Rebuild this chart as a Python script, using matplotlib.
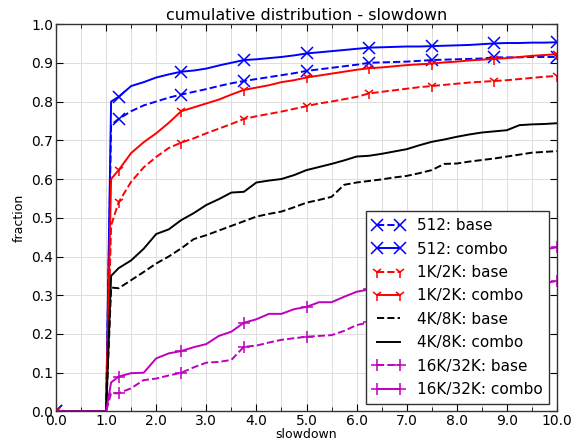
import matplotlib
matplotlib.use("Agg")
import matplotlib.pyplot as plt
from matplotlib.ticker import MultipleLocator, FormatStrFormatter

# x positions of the samples (slowdown)
xs = [0.0, 1.0, 1.1,
      1.25, 1.5, 1.75, 2.0, 2.25, 2.5, 2.75, 3.0, 3.25, 3.5, 3.75, 4.0,
      4.25, 4.5, 4.75, 5.0, 5.25, 5.5, 5.75, 6.0, 6.25, 6.5, 6.75, 7.0,
      7.25, 7.5, 7.75, 8.0, 8.25, 8.5, 8.75, 9.0, 9.25, 9.5, 9.75, 10.0]

b512_base = [0.0, 0.0, 0.74,
             0.755, 0.775, 0.79, 0.80, 0.81, 0.818, 0.825, 0.832, 0.840, 0.847, 0.853, 0.858,
             0.863, 0.868, 0.873, 0.879, 0.883, 0.887, 0.891, 0.895, 0.900, 0.901, 0.902, 0.903,
             0.905, 0.907, 0.908, 0.909, 0.910, 0.911, 0.914, 0.914, 0.914, 0.915, 0.915, 0.915]
b512_combo = [0.0, 0.0, 0.80,
              0.812, 0.84, 0.85, 0.862, 0.870, 0.877, 0.880, 0.885, 0.893, 0.900, 0.907, 0.909,
              0.912, 0.915, 0.919, 0.924, 0.927, 0.930, 0.933, 0.936, 0.939, 0.940, 0.941, 0.942,
              0.942, 0.943, 0.944, 0.945, 0.946, 0.948, 0.950, 0.951, 0.951, 0.952, 0.952, 0.953]
k12_base = [0.0, 0.0, 0.48,
            0.54, 0.593, 0.63, 0.657, 0.68, 0.694, 0.705, 0.718, 0.730, 0.742, 0.755, 0.762,
            0.768, 0.774, 0.781, 0.788, 0.795, 0.800, 0.806, 0.812, 0.821, 0.825, 0.829, 0.833,
            0.837, 0.840, 0.843, 0.846, 0.849, 0.851, 0.853, 0.855, 0.858, 0.861, 0.864, 0.866]
k12_combo = [0.0, 0.0, 0.60,
             0.623, 0.667, 0.695, 0.718, 0.745, 0.775, 0.785, 0.795, 0.805, 0.818, 0.830, 0.836,
             0.842, 0.850, 0.855, 0.862, 0.867, 0.872, 0.877, 0.882, 0.886, 0.888, 0.891, 0.894,
             0.896, 0.898, 0.901, 0.903, 0.906, 0.908, 0.910, 0.912, 0.915, 0.918, 0.920, 0.922]
k48_base = [0.0, 0.0, 0.32,
            0.318, 0.339, 0.36, 0.382, 0.40, 0.421, 0.445, 0.455, 0.467, 0.479, 0.491, 0.503,
            0.510, 0.516, 0.527, 0.539, 0.546, 0.554, 0.585, 0.591, 0.595, 0.599, 0.604, 0.608,
            0.615, 0.623, 0.639, 0.640, 0.645, 0.649, 0.653, 0.658, 0.663, 0.668, 0.670, 0.672]
k48_combo = [0.0, 0.0, 0.35,
             0.37, 0.39, 0.42, 0.458, 0.47, 0.494, 0.512, 0.533, 0.548, 0.565, 0.567, 0.591,
             0.596, 0.600, 0.610, 0.623, 0.631, 0.639, 0.648, 0.658, 0.660, 0.665, 0.671, 0.677,
             0.687, 0.696, 0.702, 0.709, 0.715, 0.720, 0.723, 0.726, 0.739, 0.741, 0.742, 0.744]
k1632_base = [0.0, 0.0, 0.047,
              0.047, 0.06, 0.081, 0.085, 0.093, 0.10, 0.114, 0.126, 0.128, 0.133, 0.167, 0.170,
              0.178, 0.185, 0.189, 0.193, 0.195, 0.197, 0.208, 0.223, 0.230, 0.238, 0.245, 0.252,
              0.260, 0.268, 0.275, 0.283, 0.290, 0.298, 0.305, 0.312, 0.318, 0.325, 0.331, 0.337]
k1632_combo = [0.0, 0.0, 0.075,
               0.09, 0.099, 0.10, 0.137, 0.15, 0.156, 0.166, 0.174, 0.195, 0.206, 0.229, 0.238,
               0.252, 0.252, 0.264, 0.270, 0.282, 0.282, 0.296, 0.309, 0.315, 0.322, 0.330, 0.338,
               0.345, 0.352, 0.360, 0.368, 0.375, 0.382, 0.390, 0.398, 0.405, 0.412, 0.418, 0.424]

series = [
    ("512: base", b512_base, "b", "--", "x"),
    ("512: combo", b512_combo, "b", "-", "x"),
    ("1K/2K: base", k12_base, "r", "--", "1"),
    ("1K/2K: combo", k12_combo, "r", "-", "1"),
    ("4K/8K: base", k48_base, "k", "--", None),
    ("4K/8K: combo", k48_combo, "k", "-", None),
    ("16K/32K: base", k1632_base, "m", "--", "+"),
    ("16K/32K: combo", k1632_combo, "m", "-", "+"),
]

# markers every 1.25 on x
marks = [i for i, x in enumerate(xs) if abs(x / 1.25 - round(x / 1.25)) < 1e-9]

fig = plt.figure(figsize=(5.75, 4.45), dpi=100)
ax = fig.add_axes([0.0974, 0.0753, 0.8713, 0.8707])

for label, ys, color, ls, mk in series:
    ax.plot(xs, ys, color=color, linestyle=ls, marker=mk, markevery=marks,
            markersize=8, markeredgewidth=1.1, linewidth=1.4, label=label)

ax.set_xlim(0, 10)
ax.set_ylim(0, 1)
ax.xaxis.set_major_locator(MultipleLocator(1.0))
ax.xaxis.set_minor_locator(MultipleLocator(0.5))
ax.yaxis.set_major_locator(MultipleLocator(0.1))
ax.xaxis.set_major_formatter(FormatStrFormatter("%.1f"))
ax.yaxis.set_major_formatter(FormatStrFormatter("%.1f"))
ax.tick_params(which="both", direction="in", top=True, right=True, labelsize=10, pad=2)
ax.tick_params(which="major", length=5)
ax.tick_params(which="minor", length=3)
ax.grid(True, which="both", color="#dddddd", linewidth=0.7)
ax.set_axisbelow(True)
for s in ax.spines.values():
    s.set_color("#333333")
    s.set_linewidth(1.0)

ax.set_title("cumulative distribution - slowdown", fontsize=11.5, pad=3)
ax.set_xlabel("slowdown", fontsize=9, labelpad=0)
ax.set_ylabel("fraction", fontsize=9, labelpad=4)

leg = ax.legend(loc="lower right", numpoints=2, fontsize=11, fancybox=False,
                framealpha=1, edgecolor="#333333", handlelength=2.1,
                handletextpad=0.8, labelspacing=0.55, borderpad=0.45)
leg.get_frame().set_linewidth(1.0)

fig.savefig("out.png", dpi=100)
